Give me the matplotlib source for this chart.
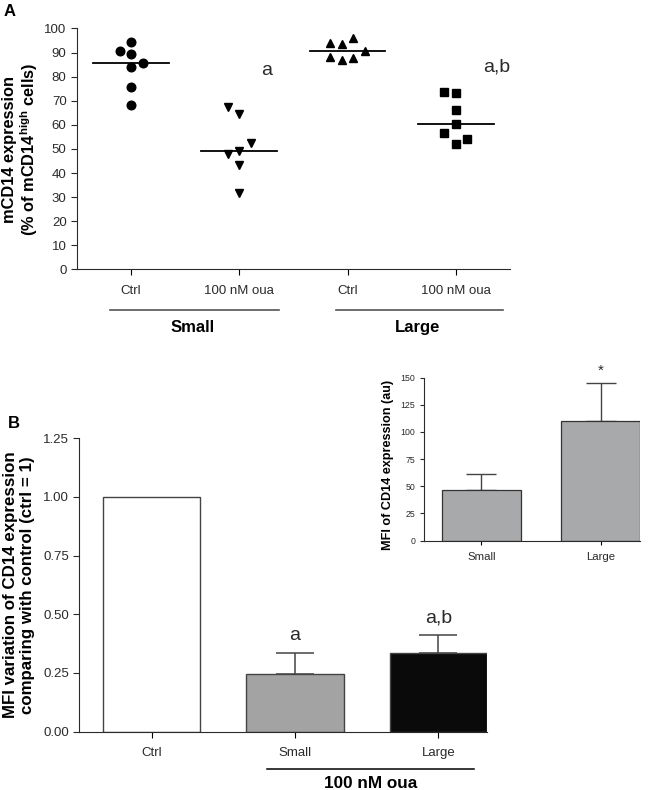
import numpy as np
import matplotlib
matplotlib.use('Agg')
import matplotlib.pyplot as plt
import matplotlib.transforms as mtransforms

plt.rcParams['font.family'] = ['Liberation Sans', 'DejaVu Sans']
plt.rcParams['mathtext.default'] = 'regular'

# Panel A: mCD14 expression (% of mCD14 high cells)
ctrl_small = [94.3, 90.7, 89.5, 85.8, 83.8, 75.9, 68.3]
oua_small = [67.2, 64.3, 52.6, 49.2, 47.9, 43.4, 31.8]
ctrl_large = [96.0, 94.0, 93.5, 90.6, 88.2, 87.8, 86.8]
oua_large = [73.8, 73.3, 66.1, 60.5, 56.8, 54.3, 52.1]
a_ticklabels = ['Ctrl', '100 nM oua', 'Ctrl', '100 nM oua']
a_groups = ['Small', 'Large']
a_letters = ['a', 'a,b']

# Panel B: MFI variation relative to control
b_labels = ['Ctrl', 'Small', 'Large']
b_means = [1.00, 0.246, 0.334]
b_err = [0.0, 0.09, 0.077]
b_letters = ['', 'a', 'a,b']

# inset: MFI of CD14 expression (au)
inset_labels = ['Small', 'Large']
inset_means = [46.5, 110.0]
inset_err = [14.5, 35.0]

# column-scatter jitter (layout only, in marker steps)
jit_ctrl_small = [0, -1, 0, 1, 0, 0, 0]
jit_oua_small = [-1, 0, 1, 0, -1, 0, 0]
jit_ctrl_large = [0.5, -1.5, -0.5, 1.5, -1.5, 0.5, -0.5]
jit_oua_large = [-1, 0, 0, 0, -1, 1, 0]

dark = '#2a2a2a'
fig = plt.figure(figsize=(6.61, 7.90), dpi=100)

# ---------------- Panel A ----------------
axA = fig.add_axes([0.1165, 0.659, 0.655, 0.305])
groups = [(ctrl_small, jit_ctrl_small, 'o'), (oua_small, jit_oua_small, 'v'),
          (ctrl_large, jit_ctrl_large, '^'), (oua_large, jit_oua_large, 's')]
step = 0.106
for i, (vals, jit, mk) in enumerate(groups):
    x = i + 1 + np.array(jit) * step
    ms = 6.2 if mk != 's' else 5.6
    axA.plot(x, vals, linestyle='none', marker=mk, color='black', markersize=ms)
    med = np.median(vals)
    axA.plot([i + 1 - 0.35, i + 1 + 0.35], [med, med], color='black', lw=1.3)

axA.set_xlim(0.5, 4.5)
axA.set_ylim(0, 100)
axA.set_yticks(range(0, 101, 10))
axA.set_xticks([1, 2, 3, 4])
axA.set_xticklabels(a_ticklabels, fontsize=9.5, color=dark)
axA.tick_params(axis='y', labelsize=9.5, colors=dark, length=4)
axA.tick_params(axis='x', length=4, pad=7)
for s in ['top', 'right']:
    axA.spines[s].set_visible(False)
for s in ['left', 'bottom']:
    axA.spines[s].set_color(dark)

axA.text(2.25, 82.5, a_letters[0], fontsize=14, ha='center', va='center', color=dark)
axA.text(4.38, 84.0, a_letters[1], fontsize=14, ha='center', va='center', color=dark)

transA = mtransforms.blended_transform_factory(axA.transData, axA.transAxes)
for (x0, x1), name in zip([(0.806, 2.37), (2.89, 4.44)], a_groups):
    axA.plot([x0, x1], [-0.169, -0.169], transform=transA, color='#555555',
             lw=1.2, clip_on=False)
    axA.text((x0 + x1) / 2 - 0.02, -0.24, name, transform=transA, ha='center',
             va='center', fontsize=12, fontweight='bold', color='black')

# y label as two centred lines
fig.text(0.0145, 0.811, 'mCD14 expression', rotation=90, ha='center', va='center',
         fontsize=11.8, fontweight='bold')
fig.text(0.0435, 0.811, '(% of mCD14$^{high}$ cells)', rotation=90, ha='center',
         va='center', fontsize=11.8, fontweight='bold')
fig.text(0.005, 0.985, 'A', fontsize=12, fontweight='bold', ha='left', va='center')

# ---------------- Panel B ----------------
axB = fig.add_axes([0.12, 0.074, 0.617, 0.3712])
xb = np.arange(len(b_labels))
b_colors = ['white', '#a3a3a3', '#0a0a0a']
axB.bar(xb, b_means, width=0.68, color=b_colors, edgecolor='#444444', linewidth=1.0,
        zorder=2)
axB.errorbar(xb[1:], b_means[1:], yerr=[[0] * 2, b_err[1:]], fmt='none',
             ecolor='#444444', elinewidth=1.1, capsize=14, capthick=1.1, zorder=1)
for x, m, e, t in zip(xb, b_means, b_err, b_letters):
    if t:
        axB.text(x, m + e + 0.075, t, ha='center', va='center', fontsize=14, color=dark)

axB.set_xlim(-0.505, 2.34)
axB.set_ylim(0, 1.25)
axB.set_yticks(np.arange(0, 1.26, 0.25))
axB.set_yticklabels(['%.2f' % v for v in np.arange(0, 1.26, 0.25)])
axB.set_xticks(xb)
axB.set_xticklabels(b_labels, fontsize=9.5, color=dark)
axB.tick_params(axis='y', labelsize=9.5, colors=dark, length=4)
axB.tick_params(axis='x', length=4, pad=7)
for s in ['top', 'right']:
    axB.spines[s].set_visible(False)
for s in ['left', 'bottom']:
    axB.spines[s].set_color(dark)

transB = mtransforms.blended_transform_factory(axB.transData, axB.transAxes)
axB.plot([0.806, 2.25], [-0.127, -0.127], transform=transB, color='black', lw=1.1,
         clip_on=False)
axB.text(1.53, -0.176, '100 nM oua', transform=transB, ha='center', va='center',
         fontsize=12.3, fontweight='bold')

fig.text(0.0155, 0.2595, 'MFI variation of CD14 expression', rotation=90,
         ha='center', va='center', fontsize=12.2, fontweight='bold')
fig.text(0.041, 0.2595, 'comparing with control (ctrl = 1)', rotation=90,
         ha='center', va='center', fontsize=12.2, fontweight='bold')
fig.text(0.012, 0.4645, 'B', fontsize=12, fontweight='bold', ha='left', va='center')

# ---------------- inset ----------------
axI = fig.add_axes([0.6415, 0.3158, 0.3265, 0.2061])
xi = np.arange(len(inset_labels))
axI.bar(xi, inset_means, width=0.66, color='#a8a9ab', edgecolor='#333333',
        linewidth=0.9, zorder=2)
axI.errorbar(xi, inset_means, yerr=[[0] * 2, inset_err], fmt='none', ecolor='#444444',
             elinewidth=1.0, capsize=11, capthick=1.0, zorder=1)
axI.text(1, inset_means[1] + inset_err[1] + 11, '*', ha='center', va='center',
         fontsize=11, color=dark)
axI.set_xlim(-0.482, 1.33)
axI.set_ylim(0, 150)
axI.set_yticks(range(0, 151, 25))
axI.set_xticks(xi)
axI.set_xticklabels(inset_labels, fontsize=8.2, color=dark)
axI.tick_params(axis='y', labelsize=6.3, colors=dark, length=3)
axI.tick_params(axis='x', length=3, pad=5)
for s in ['top', 'right']:
    axI.spines[s].set_visible(False)
for s in ['left', 'bottom']:
    axI.spines[s].set_color(dark)
fig.text(0.587, 0.411, 'MFI of CD14 expression (au)', rotation=90, ha='center',
         va='center', fontsize=9.1, fontweight='bold')

fig.savefig('out.png', dpi=100)
